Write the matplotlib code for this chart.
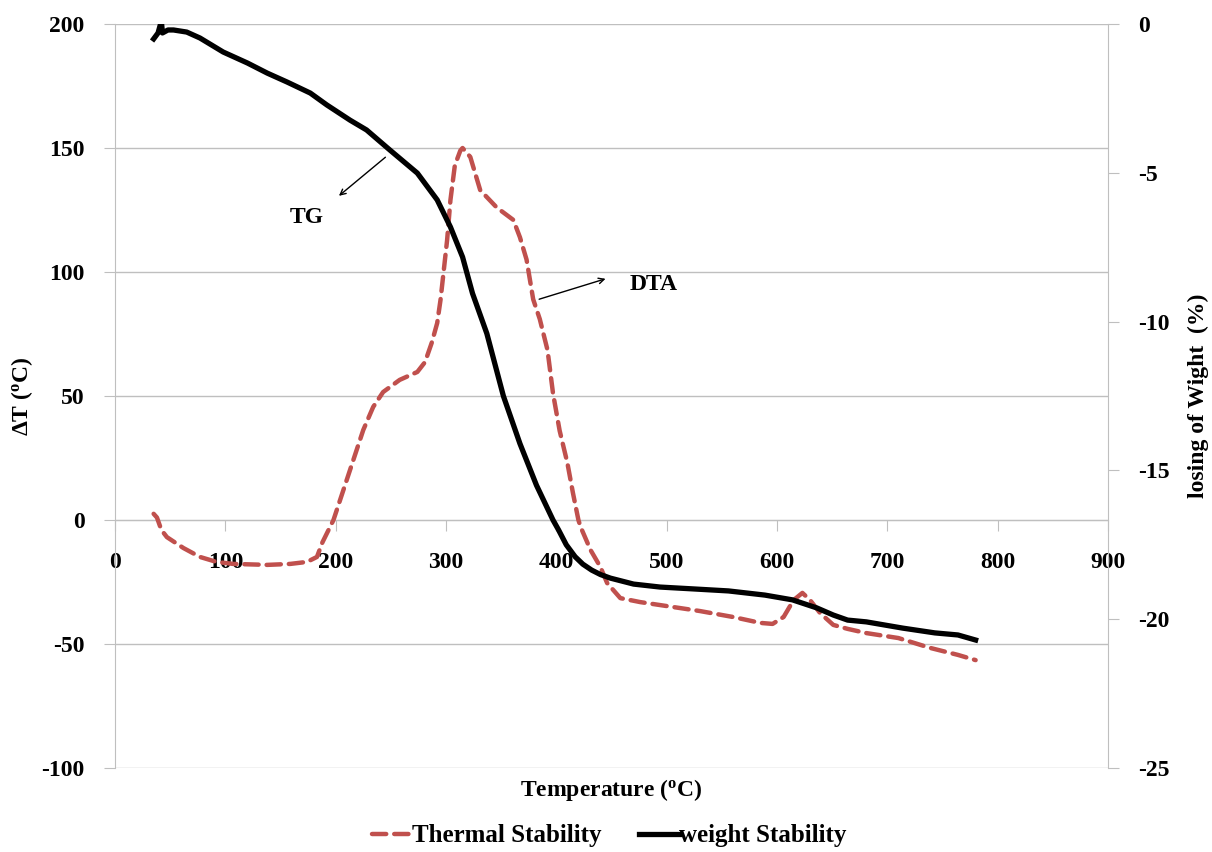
import matplotlib
matplotlib.use("Agg")
import matplotlib.pyplot as plt

# DTA curve (left axis, delta T in C)
dta_temp = [35, 38, 40, 42, 47, 62, 77, 92, 107, 138, 159, 174, 183, 188, 198,
            207, 216, 225, 234, 243, 258, 274, 281, 287, 292, 295, 301, 304, 308,
            313, 315, 322, 331, 346, 361, 367, 373, 379, 385, 392, 397, 403, 410,
            415, 420, 422, 431, 440, 446, 458, 476, 506, 530, 560, 585, 596, 606,
            615, 623, 630, 639, 651, 664, 681, 710, 739, 764, 780]
dta_val = [2.5, 1.0, -1.5, -4, -6.9, -11.3, -14.9, -16.9, -17.7, -18.1, -17.7, -16.9,
           -14.9, -9, 0, 12.1, 24.2, 36.3, 45.6, 51.6, 56.5, 59.7, 63.7, 71.4, 79.4,
           88.7, 112.9, 129, 143, 149, 150, 146.4, 133, 126, 121, 114, 105, 89, 81,
           68.5, 51, 36, 23, 11, 0, -2.8, -12.1, -19, -25.4, -31.5, -33.1, -35.1,
           -36.7, -39.1, -41.5, -41.9, -39.1, -32.3, -29.4, -32.3, -37.5, -42.3,
           -43.9, -45.6, -47.6, -51.6, -54.4, -56.5]

# TG curve (right axis, weight loss %)
tg_temp = [35, 39, 42, 43, 48, 53, 65, 77, 98, 120, 138, 156, 177, 192, 213, 228,
           249, 274, 292, 304, 315, 324, 337, 352, 367, 382, 397, 402, 409, 417,
           424, 432, 440, 449, 470, 494, 523, 556, 589, 614, 636, 651, 664, 681,
           714, 743, 764, 780]
tg_val = [-0.5, -0.3, 0.1, -0.3, -0.2, -0.2, -0.27, -0.47, -0.94, -1.31, -1.65,
          -1.95, -2.32, -2.72, -3.23, -3.56, -4.23, -5.01, -5.91, -6.82, -7.83,
          -9.05, -10.4, -12.5, -14.1, -15.5, -16.67, -17.0, -17.5, -17.9, -18.15,
          -18.35, -18.5, -18.62, -18.82, -18.92, -18.98, -19.05, -19.19, -19.35,
          -19.62, -19.86, -20.03, -20.09, -20.3, -20.46, -20.53, -20.7]

x_ticks = [0, 100, 200, 300, 400, 500, 600, 700, 800, 900]
left_ticks = [-100, -50, 0, 50, 100, 150, 200]
right_ticks = [-25, -20, -15, -10, -5, 0]

plt.rcParams['font.family'] = 'Liberation Serif'
plt.rcParams['font.weight'] = 'bold'
plt.rcParams['axes.unicode_minus'] = False
plt.rcParams['mathtext.fontset'] = 'custom'
plt.rcParams['mathtext.rm'] = 'Liberation Serif:bold'
plt.rcParams['mathtext.it'] = 'Liberation Serif:bold'
plt.rcParams['mathtext.bf'] = 'Liberation Serif:bold'

grid_col = '#BFBFBF'
fs = 17

fig = plt.figure(figsize=(12.12, 8.52), dpi=100)
ax = fig.add_axes([0.0949, 0.0986, 0.8193, 0.8732])
ax2 = ax.twinx()

ax.set_xlim(0, 900)
ax.set_ylim(-100, 200)
ax2.set_ylim(-25, 0)

ax.set_xticks(x_ticks)
ax.set_yticks(left_ticks)
ax2.set_yticks(right_ticks)

ax.yaxis.grid(True, color=grid_col, lw=1)
ax.set_axisbelow(True)

ax.spines['top'].set_visible(False)
ax2.spines['top'].set_visible(False)
ax.spines['bottom'].set_position(('data', 0))
ax.spines['bottom'].set_color(grid_col)
ax.spines['left'].set_color(grid_col)
ax2.spines['right'].set_color(grid_col)
ax2.spines['left'].set_visible(False)
ax2.spines['bottom'].set_visible(False)
ax.spines['right'].set_visible(False)

ax.tick_params(axis='x', length=8, color=grid_col, pad=15, labelsize=fs)
ax.tick_params(axis='y', length=8, color=grid_col, pad=14, labelsize=fs)
ax2.tick_params(axis='y', length=8, color=grid_col, pad=14, labelsize=fs)

l1, = ax.plot(dta_temp, dta_val, color='#C0504D', lw=3.2, dashes=(3.2, 1.8),
              dash_capstyle='round', solid_joinstyle='round',
              label='Thermal Stability', zorder=3)
l2, = ax2.plot(tg_temp, tg_val, color='black', lw=3.8, label='weight Stability',
               solid_joinstyle='round', zorder=4)

ax.set_xlabel(r'Temperature ($^{\mathrm{o}}$C)', fontsize=fs, fontweight='bold')
ax.xaxis.set_label_coords(0.5, -0.012)
ax.set_ylabel(r'$\Delta$T ($^{\mathrm{o}}$C)', fontsize=fs, fontweight='bold',
              va='center')
ax.yaxis.set_label_coords(-0.094, 0.5)
ax2.set_ylabel('losing of Wight  (%)', fontsize=fs, fontweight='bold',
               va='center', rotation=90)
ax2.yaxis.set_label_coords(1.091, 0.5)

# annotations
ax.annotate('', xy=(201, 130), xytext=(247, 147),
            arrowprops=dict(arrowstyle='->', color='black', lw=1))
ax.text(174, 122, 'TG', fontsize=fs, ha='center', va='center', fontweight='bold')
ax.annotate('', xy=(447, 97.6), xytext=(382, 88.7),
            arrowprops=dict(arrowstyle='->', color='black', lw=1))
ax.text(488, 95, 'DTA', fontsize=fs, ha='center', va='center', fontweight='bold')

fig.legend(handles=[l1, l2], loc='center', bbox_to_anchor=(0.503, 0.019), ncol=2,
           frameon=False, fontsize=18, handlelength=1.6, handletextpad=0.0,
           columnspacing=1.5)

fig.savefig('out.png', dpi=100)
